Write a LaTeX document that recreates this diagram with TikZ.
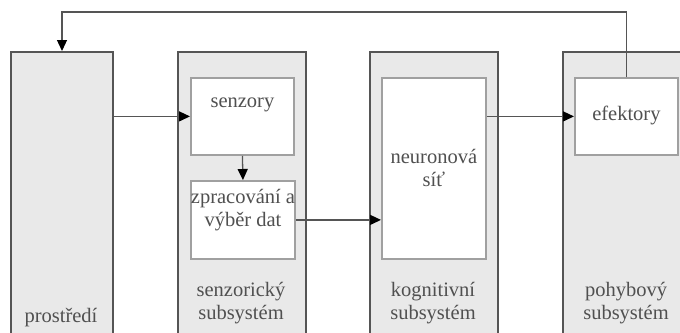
\documentclass[tikz,border=0pt]{standalone}
\usepackage{fontspec}
\setmainfont{Liberation Serif}
\newfontfamily\capfont{Liberation Serif}
\usetikzlibrary{positioning,arrows.meta}

\definecolor{boxgray}{HTML}{E9E9E9}
\definecolor{edgegray}{HTML}{555555}
\definecolor{innergray}{HTML}{A0A0A0}
\definecolor{textgray}{HTML}{505050}

\begin{document}
\begin{tikzpicture}[x=1pt,y=-1pt,
	every node/.style={font=\capfont\fontsize{20.5}{23}\selectfont,text=textgray,align=center},
	outer/.style={draw=edgegray,line width=2pt,fill=boxgray,minimum height=310pt,anchor=north west,inner sep=0pt},
	inner/.style={draw=innergray,line width=1.8pt,fill=white,anchor=north west,inner sep=0pt},
	flow/.style={draw=edgegray,line width=1.3pt,-{Triangle[length=11pt,width=10pt,color=black]}}]

		\useasboundingbox (0,0) rectangle (680,332);
		\clip (0,0) rectangle (680,332);

		%outer boxes
		\node[outer,minimum width=102pt] (env) at (10,51) {};
		\node[outer,minimum width=128pt] (senzsys) at (177,51) {};
		\node[outer,minimum width=128pt] (kogsys) at (369,51) {};
		\node[outer,minimum width=128pt] (pohsys) at (562,51) {};

		%inner boxes
		\node[inner,minimum width=103pt,minimum height=77pt] (senz) at (190,77) {senzory\\[4pt]};
		\node[inner,minimum width=103pt,minimum height=78pt] (zprac) at (190,180) {zpracování a\\výběr dat\\[2pt]};
		\node[inner,minimum width=104pt,minimum height=181pt] (neur) at (381,77) {neuronová\\síť};
		\node[inner,minimum width=103pt,minimum height=77pt] (efekt) at (574,77) {\\[-10pt]efektory};

		%captions
		\node (envtxt) at (61,318) {prostředí};
		\node (senztxt) at (241,303) {senzorický\\subsystém};
		\node (kogtxt) at (433,303) {kognitivní\\subsystém};
		\node (pohtxt) at (626,303) {pohybový\\subsystém};

		%edges
		\coordinate (top) at (0,12);
		\draw[flow] (env.east |- senz.west) -- (senz.west);
		\draw[flow] (senz.south) -- (zprac.north);
		\draw[flow] (zprac.east) -- (zprac.east -| neur.west);
		\draw[flow] (neur.east |- efekt.west) -- (efekt.west);
		\draw[flow] (efekt.north) -- (efekt.north |- top) -- (env.north |- top) -- (env.north);

\end{tikzpicture}
\end{document}
